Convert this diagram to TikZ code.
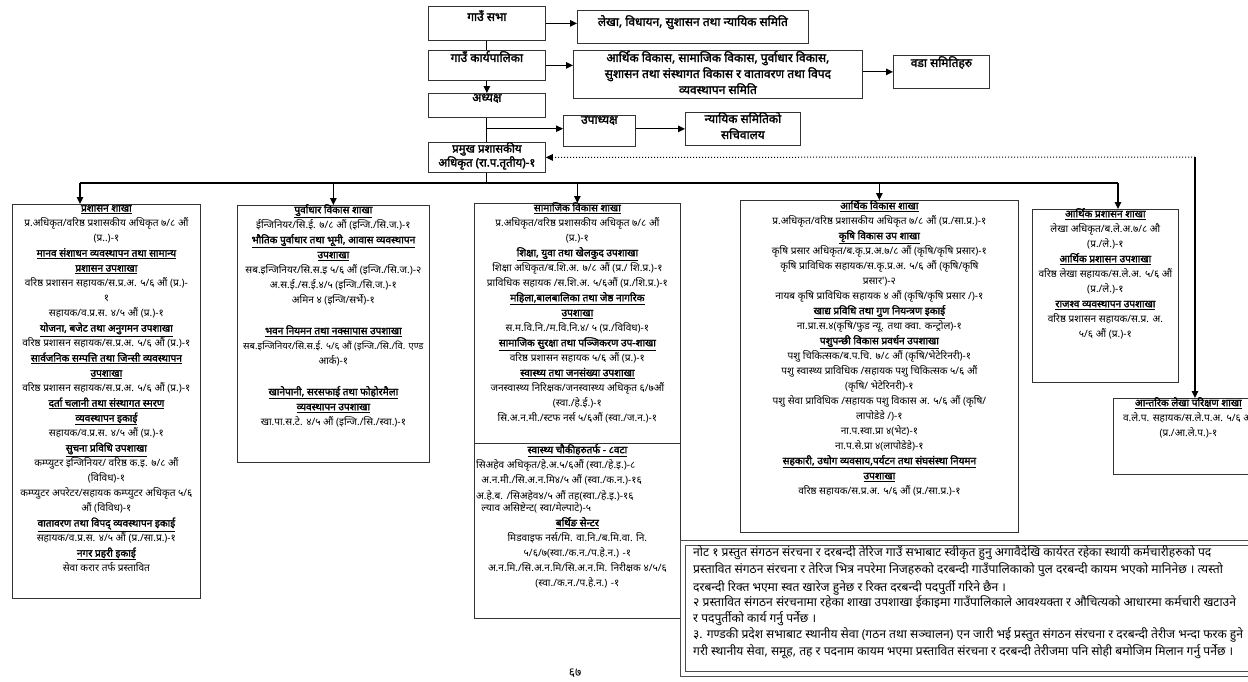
\documentclass[tikz,border=0pt]{standalone}
\usepackage{fontspec}
\newfontfamily\dev[Script=Devanagari,BoldFont={Noto Sans},BoldFeatures={FakeBold=2}]{Noto Sans}
\usetikzlibrary{arrows.meta,calc}
\newcommand\hd[1]{{\bfseries\underline{#1}}}
\begin{document}
\begin{tikzpicture}[x=1pt,y=-1pt,
  box/.style={draw=black!80,line width=0.8pt,anchor=north west,inner sep=0pt},
  txt/.style={font=\dev\fontsize{10.1}{15}\selectfont,align=center,inner sep=0pt,anchor=north},
  ttxt/.style={font=\dev\bfseries\fontsize{12}{16}\selectfont,align=center,inner sep=0pt,anchor=north},
  ntxt/.style={font=\dev\fontsize{12.1}{17.5}\selectfont,align=left,inner sep=0pt,anchor=north west},
  arr/.style={-{Triangle[length=7pt,width=6.5pt]},line width=1.1pt},
  darr/.style={-{Triangle[length=7pt,width=6.5pt]},line width=1pt,dotted},
  ln/.style={line width=1.1pt}]
\useasboundingbox (0,0) rectangle (1248,681);
% ---------- top ----------
\node[box,minimum width=117pt,minimum height=34pt] (sabha) at (428,6) {};
\node[ttxt] (sabhaT) at ($(sabha.north)+(0,4)$) {गाउँ सभा};
\node[box,minimum width=231pt,minimum height=33pt] (lekha) at (577,10) {};
\node[ttxt] (lekhaT) at ($(lekha.north)+(0,5)$) {लेखा, विधायन, सुशासन तथा न्यायिक समिति};
\node[box,minimum width=117pt,minimum height=30pt] (karya) at (428,50) {};
\node[ttxt] (karyaT) at ($(karya.north)+(0,1)$) {गाउँ कार्यपालिका};
\node[box,minimum width=289pt,minimum height=48pt] (arthik) at (573,50) {};
\begin{scope}
\clip (arthik.north west) rectangle (arthik.south east);
\node[ttxt] (arthikT) at ($(arthik.north)+(0,1)$) {आर्थिक विकास, सामाजिक विकास, पुर्वाधार विकास,\\ सुशासन तथा संस्थागत विकास र वातावरण तथा विपद\\ व्यवस्थापन समिति};
\end{scope}
\node[box,minimum width=96pt,minimum height=33pt] (wada) at (893,55) {};
\node[ttxt] (wadaT) at ($(wada.north)+(0,1)$) {वडा समितिहरु};
\node[box,minimum width=117pt,minimum height=24pt] (adhy) at (428,93) {};
\node[ttxt] (adhyT) at ($(adhy.north)+(0,1)$) {अध्यक्ष};
\node[box,minimum width=72pt,minimum height=31pt] (upa) at (563,115) {};
\node[ttxt] (upaT) at ($(upa.north)+(0,1)$) {उपाध्यक्ष};
\node[box,minimum width=115pt,minimum height=33pt] (nyay) at (685,112) {};
\node[ttxt] (nyayT) at ($(nyay.north)+(0,0)$) {न्यायिक समितिको\\ सचिवालय};
\node[box,minimum width=117pt,minimum height=30pt] (pram) at (428,142) {};
\node[ttxt,font=\dev\bfseries\fontsize{11.5}{14}\selectfont] (pramT) at ($(pram.north)+(0,0)$) {प्रमुख प्रशासकीय\\ अधिकृत (रा.प.तृतीय)-१};
% ---------- columns ----------
\node[box,minimum width=188pt,minimum height=394pt] (c1) at (12,204) {};
\node[box,minimum width=192pt,minimum height=257pt] (c2) at (237,205) {};
\node[box,minimum width=206pt,minimum height=415pt] (c3) at (474,203) {};
\node[box,minimum width=278pt,minimum height=332pt] (c4) at (740,200) {};
\node[box,minimum width=146pt,minimum height=173pt] (c5) at (1032,209) {};
\node[box,minimum width=160pt,minimum height=76pt] (c6) at (1113,398) {};
\coordinate (dv) at (0,443);
\draw[black!80,line width=0.8pt] (c3.west |- dv) -- (c3.east |- dv);

\node[txt] (c1T) at ($(c1.north)+(0,1)$) {\hd{प्रशासन शाखा}\\
प्र.अधिकृत/वरिष्ठ प्रशासकीय अधिकृत ७/८ औं\\
(प्र..)-१\\
\hd{मानव संशाधन व्यवस्थापन  तथा सामान्य}\\
\hd{प्रशासन  उपशाखा}\\
वरिष्ठ प्रशासन सहायक/स.प्र.अ.  ५/६ औं (प्र.)-\\
१\\
सहायक/व.प्र.स.  ४/५ औं (प्र.)-१\\
\hd{योजना, बजेट तथा अनुगमन उपशाखा}\\
वरिष्ठ प्रशासन सहायक/स.प्र.अ.  ५/६ औं (प्र.)-१\\
\hd{सार्वजनिक सम्पत्ति तथा जिन्सी व्यवस्थापन}\\
\hd{उपशाखा}\\
वरिष्ठ प्रशासन सहायक/स.प्र.अ. ५/६ औं (प्र.)-१\\
\hd{दर्ता चलानी तथा संस्थागत स्मरण}\\
\hd{व्यवस्थापन इकाई}\\
सहायक/व.प्र.स. ४/५ औं (प्र.)-१\\
\hd{सुचना  प्रविधि उपशाखा}\\
कम्प्युटर इन्जिनियर/ वरिष्ठ क.इ. ७/८ औं\\
(विविध)-१\\
कम्प्युटर अपरेटर/सहायक कम्प्युटर अधिकृत ५/६\\
औं (विविध)-१\\
\hd{वातावरण तथा विपद् व्यवस्थापन इकाई}\\
सहायक/व.प्र.स.  ४/५ औं (प्र./सा.प्र.)-१\\
\hd{नगर प्रहरी इकाई}\\
सेवा करार तर्फ प्रस्तावित};

\node[txt] (c2T) at ($(c2.north)+(0,-1)$) {\hd{पुर्वाधार विकास  शाखा}\\
ईन्जिनियर/सि.ई. ७/८ औं (इन्जि./सि.ज.)-१\\
\hd{भौतिक  पुर्वाधार तथा भूमी, आवास व्यवस्थापन}\\
\hd{उपशाखा}\\
सब.इन्जिनियर/सि.स.इ ५/६ औं (इन्जि./सि.ज.)-२\\
अ.स.ई./स.ई.४/५ (इन्जि./सि.ज.)-१\\
अमिन ४ (इन्जि/सर्भे)-१\\[16pt]
\hd{भवन नियमन तथा नक्सापास  उपशाखा}\\
{\fontsize{9.5}{15}\selectfont सब.इन्जिनियर/सि.स.ई. ५/६ औं (इन्जि./सि./वि. एण्ड}\\
आर्क)-१\\[16pt]
\hd{खानेपानी, सरसफाई तथा फोहोरमैला}\\
\hd{व्यवस्थापन उपशाखा}\\
खा.पा.स.टे. ४/५ औं (इन्जि./सि./स्वा.)-१};

\node[txt] (c3T) at ($(c3.north)+(0,-1)$) {\hd{सामाजिक  विकास  शाखा}\\
प्र.अधिकृत/वरिष्ठ प्रशासकीय अधिकृत ७/८ औं\\
(प्र.)-१\\
\hd{शिक्षा, युवा तथा खेलकुद उपशाखा}\\
शिक्षा अधिकृत/ब.शि.अ.  ७/८ औं (प्र./ शि.प्र.)-१\\
प्राविधिक सहायक /स.शि.अ. ५/६औं (प्र./शि.प्र.)-१\\
\hd{महिला,बालबालिका तथा जेष्ठ नागरिक}\\
\hd{उपशाखा}\\
स.म.वि.नि./म.वि.नि.४/ ५ (प्र./विविध)-१\\
\hd{सामाजिक सुरक्षा तथा पञ्जिकरण उप-शाखा}\\
वरिष्ठ प्रशासन सहायक ५/६ औं (प्र.)-१\\
\hd{स्वास्थ्य तथा जनसंख्या उपशाखा}\\
जनस्वास्थ्य निरिक्षक/जनस्वास्थ्य  अधिकृत ६/७औं\\
(स्वा./हे.ई.)-१\\
सि.अ.न.मी./स्टफ नर्स ५/६औं (स्वा./ज.न.)-१};

\node[txt] (c3H) at ($(c3.north |- dv)+(0,1)$) {\hd{स्वास्थ्य चौकीहरुतर्फ - ८वटा}};
\node[txt,anchor=north west,align=left] (c3L) at ($(c3.west |- dv)+(2,16)$) {सिअहेव अधिकृत/हे.अ.५/६औं (स्वा./हे.इ.)-८\\
\ \ अ.न.मी./सि.अ.न.मि४/५ औं (स्वा./क.न.)-१६\\[1pt]
अ.हे.ब. /सिअहेव४/५ औं तह(स्वा./हे.इ.)-१६\\[-3pt]
\ \ ल्याव असिष्टेन्ट( स्वा/मेल्पाटे)-५};
\node[txt] (c3B) at ($(c3.north |- dv)+(0,74)$) {\hd{बर्थिङ सेन्टर}\\
मिडवाइफ नर्स/मि. वा.नि./ब.मि.वा. नि.\\
५/६/७(स्वा./क.न./प.हे.न.) -१\\
अ.न.मि./सि.अ.न.मि/सि.अ.न.मि. निरीक्षक ४/५/६\\
(स्वा./क.न./प.हे.न.) -१};

\node[txt] (c4T) at ($(c4.north)+(0,0)$) {\hd{आर्थिक विकास शाखा}\\
प्र.अधिकृत/वरिष्ठ प्रशासकीय अधिकृत ७/८ औं (प्र./सा.प्र.)-१\\
\hd{कृषि विकास उप शाखा}\\
कृषि प्रसार अधिकृत/ब.कृ.प्र.अ.७/८ औं (कृषि/कृषि प्रसार)-१\\
कृषि प्राविधिक सहायक/स.कृ.प्र.अ.  ५/६ औं (कृषि/कृषि\\
प्रसार')-२\\
नायब कृषि प्राविधिक सहायक ४ औं (कृषि/कृषि प्रसार /)-१\\
\hd{खाद्य प्रविधि तथा गुण नियन्त्रण इकाई}\\
ना.प्रा.स.४(कृषि/फुड न्यू. तथा क्वा. कन्ट्रोल)-१\\
\hd{पशुपन्छी विकास प्रवर्धन उपशाखा}\\
पशु चिकित्सक/ब.प.चि.  ७/८ औं (कृषि/भेटेरिनरी)-१\\
पशु स्वास्थ्य  प्राविधिक /सहायक पशु चिकित्सक ५/६ औं\\
(कृषि/ भेटेरिनरी)-१\\
पशु सेवा प्राविधिक /सहायक पशु विकास अ. ५/६ औं (कृषि/\\
लापोडेडे  /)-१\\
ना.प.स्वा.प्रा ४(भेट)-१\\
ना.प.से.प्रा ४(लापोडेडे)-१\\
\hd{सहकारी, उधोग व्यवसाय,पर्यटन तथा संघसंस्था नियमन}\\
\hd{उपशाखा}\\
वरिष्ठ सहायक/स.प्र.अ. ५/६ औं (प्र./सा.प्र.)-१};

\node[txt] (c5T) at ($(c5.north)+(0,-1)$) {\hd{आर्थिक  प्रशासन  शाखा}\\
लेखा अधिकृत/ब.ले.अ.७/८ औ\\
(प्र./ले.)-१\\
\hd{आर्थिक प्रशासन उपशाखा}\\
वरिष्ठ लेखा सहायक/स.ले.अ. ५/६ औं\\
(प्र./ले.)-१\\
\hd{राजश्व व्यवस्थापन उपशाखा}\\
वरिष्ठ प्रशासन सहायक/स.प्र. अ.\\
५/६ औं (प्र.)-१};

\node[txt] (c6T) at ($(c6.north)+(-5,-1)$) {\hd{आन्तरिक  लेखा परिक्षण  शाखा}\\
व.ले.प. सहायक/स.ले.प.अ. ५/६ औं\\
(प्र./आ.ले.प.)-१};

% ---------- note ----------
\node[box,draw=black!70,minimum width=582pt,minimum height=136pt] (noteO) at (680,540) {};
\node[box,draw=black!70,minimum width=577pt,minimum height=126pt] (noteI) at (685,545) {};
\node[ntxt] (noteT) at ($(noteI.north west)+(8,0)$) {नोट १ प्रस्तुत संगठन संरचना र दरबन्दी तेरिज गाउँ सभाबाट स्वीकृत हुनु अगावैदेखि कार्यरत रहेका स्थायी कर्मचारीहरुको पद\\
प्रस्तावित संगठन संरचना र तेरिज भित्र नपरेमा निजहरुको दरबन्दी गाउँपालिकाको पुल दरबन्दी कायम भएको मानिनेछ । त्यस्तो\\
दरबन्दी रिक्त भएमा स्वत खारेज हुनेछ र रिक्त दरबन्दी पदपुर्ती गरिने छैन ।\\[-2pt]
२ प्रस्तावित संगठन संरचनामा रहेका शाखा उपशाखा ईकाइमा गाउँपालिकाले आवश्यक्ता र औचित्यको आधारमा कर्मचारी खटाउने\\[-2pt]
र पदपुर्तीको कार्य गर्नु पर्नेछ ।\\[-1pt]
३. गण्डकी प्रदेश सभाबाट स्थानीय सेवा (गठन तथा सञ्चालन) एन जारी भई प्रस्तुत संगठन संरचना र दरबन्दी तेरीज भन्दा फरक हुने\\[-1pt]
गरी स्थानीय सेवा, समूह, तह र पदनाम कायम भएमा प्रस्तावित संरचना र दरबन्दी तेरीजमा पनि सोही बमोजिम मिलान गर्नु पर्नेछ ।};
\node[font=\dev\fontsize{12}{14}\selectfont,inner sep=0pt] (pg) at (575,673) {६७};

% ---------- connectors ----------
\draw[arr] (sabha.east) -- (sabha.east -| lekha.west);
\draw[ln] (sabha.south) -- (karya.north);
\draw[arr] (karya.east) -- (karya.east -| arthik.west);
\draw[arr] (arthik.east |- wada.west) -- (wada.west);
\draw[arr] (karya.south) -- (adhy.north);
\draw[ln] (adhy.south) -- (pram.north);
\coordinate (ua) at ($(adhy.south)!0.45!(pram.north)$);
\draw[arr] (ua) -- (ua -| upa.west);
\draw[arr] (upa.east |- nyay.west) -- (nyay.west);
\coordinate (jn) at (1195,157);
\draw[darr] (jn) -- (pram.east);
\draw[arr] (jn) -- (jn |- c6.north);
\coordinate (bL) at (80,183);
\coordinate (bR) at (1118,183);
\draw[ln] (pram.south) -- (pram.south |- bL);
\draw[ln] (bL) -- (bR);
\draw[arr] (bL) -- (bL |- c1.north);
\draw[arr] (c2.north |- bL) -- (c2.north);
\draw[arr] (c3.north |- bL) -- (c3.north);
\draw[arr] (c4.north |- bL) -- (c4.north);
\draw[arr] (bR) -- (bR |- c5.north);
\end{tikzpicture}
\end{document}
